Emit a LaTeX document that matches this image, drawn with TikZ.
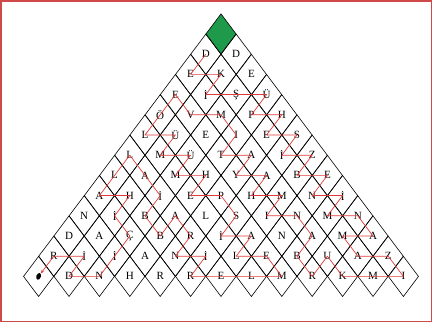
\documentclass[tikz,border=0pt]{standalone}
\usepackage{fontspec}
\setmainfont{Liberation Serif}
\usetikzlibrary{shapes.geometric,arrows.meta}
\definecolor{trailred}{HTML}{E03A3A}
\definecolor{framered}{HTML}{D04848}
\definecolor{topgreen}{HTML}{1E9A4A}

\begin{document}
\begin{tikzpicture}[
  cellbox/.style={diamond, draw, line width=0.6pt, inner sep=0pt, minimum width=1.067cm, minimum height=1.418cm, font=\fontsize{11}{13}\selectfont},
  trail/.style={trailred, line width=0.7pt, line join=round},
  dotmark/.style={ellipse, fill=black, inner sep=0pt, minimum width=4.5pt, minimum height=7pt, rotate=-20}
]
  \useasboundingbox (-7.757,-10.214) rectangle (7.441,1.193);
  \draw[framered, line width=1.5pt] (-7.715,-10.095) rectangle (7.392,1.151);

  % top cell and letter rows
  \node[cellbox, fill=topgreen] (c-1-1) at (0,0) {};
  \foreach \row [count=\r from 2] in {{D,D},{E,K,E},{E,İ,Ş,Ü},{Ö,V,M,P,H},{L,Ü,E,I,E,S},
      {L,M,Ü,T,A,İ,Z},{L,A,M,H,Y,A,B,E},{A,H,İ,E,P,H,M,N,İ},{N,İ,B,A,L,S,I,N,M,N},
      {D,A,Ç,B,R,İ,A,N,A,M,A},{R,İ,İ,A,N,İ,L,E,B,U,A,Z},{{},D,N,H,R,R,E,L,M,R,K,M,I}}
    \foreach \ch [count=\j] in \row
      \node[cellbox] (c-\r-\j) at ({(\j-(\r+1)/2)*1.067},{-(\r-1)*0.709}) {\ch};

  \node[dotmark] (dot) at (c-13-1.center) {};

  % the hidden sentence
  \draw[trail, -{Stealth[length=4pt,width=3pt]}] (c-2-1.center)
    \foreach \p in {3-1,3-2,4-2,4-3,4-4,5-4,5-5,6-5,6-6,7-6,7-7,8-7,8-8,9-8,9-9,10-9,10-10,
      11-11,11-10,12-11,12-12,13-13,13-12,13-11,12-10,13-10,12-9,11-9,10-8,10-7,9-7,9-6,
      8-6,8-5,7-5,7-4,6-4,5-3,5-2,4-1,5-1,6-1,6-2,7-2,7-3,8-3,8-4,9-4,9-5,10-6,11-6,11-7,
      12-7,12-8,13-9,13-8,13-7,13-6,12-6,12-5,11-5,10-4,11-4,10-3,9-3,8-2,7-1,8-1,9-1,9-2,
      10-2,11-3,12-3,13-3,13-2,12-2,12-1} { -- (c-\p.center) } -- (dot);
\end{tikzpicture}
\end{document}
